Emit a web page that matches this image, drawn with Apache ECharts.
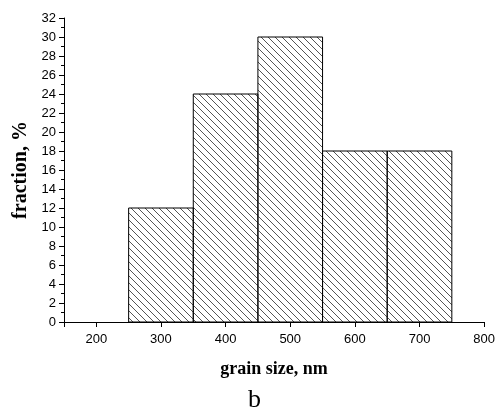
<!DOCTYPE html>
<html>
<head>
<meta charset="utf-8">
<script src="https://cdn.jsdelivr.net/npm/echarts@6/dist/echarts.min.js"></script>
<style>
html,body{margin:0;padding:0;background:#fff;}
#chartMain{width:498px;height:410px;}
</style>
</head>
<body>
<div id="chartMain"></div>
<script>
// histogram bins (nm) and fraction (%)
var binStart = [250, 350, 450, 550, 650];
var binEnd = [350, 450, 550, 650, 750];
var fraction = [12, 24, 30, 18, 18];
var xLabels = [200, 300, 400, 500, 600, 700, 800];
var xTicks = [150, 200, 300, 400, 500, 600, 700, 800];

//斜线填充
function makeHatch() {
    var s = 7;
    var c = document.createElement('canvas');
    c.width = s;
    c.height = s;
    var ctx = c.getContext('2d');
    ctx.strokeStyle = '#555';
    ctx.lineWidth = 1;
    ctx.beginPath();
    ctx.moveTo(0, 0);
    ctx.lineTo(s, s);
    ctx.moveTo(-1, s - 1);
    ctx.lineTo(1, s + 1);
    ctx.moveTo(s - 1, -1);
    ctx.lineTo(s + 1, 1);
    ctx.stroke();
    return c;
}
var hatch = { image: makeHatch(), repeat: 'repeat' };

var data = [];
for (var i = 0; i < binStart.length; i++) {
    data.push([binStart[i], binEnd[i], fraction[i]]);
}

var myChart = echarts.init(document.getElementById('chartMain'));
var labelFont = { color: '#000', fontFamily: 'Liberation Sans', fontSize: 13 };

myChart.setOption({
    animation: false,
    grid: { left: 64, right: 12, top: 18, bottom: 88 },
    xAxis: {
        type: 'value',
        min: 150,
        max: 800,
        name: 'grain size, nm',
        nameLocation: 'middle',
        nameGap: 38,
        nameTextStyle: { color: '#000', fontFamily: 'Liberation Serif', fontSize: 18, fontWeight: 'bold' },
        axisLine: { lineStyle: { color: '#000', width: 1 } },
        axisTick: { show: true, length: 5, customValues: xTicks, lineStyle: { color: '#000' } },
        axisLabel: Object.assign({ customValues: xLabels, margin: 11 }, labelFont),
        splitLine: { show: false }
    },
    yAxis: {
        type: 'value',
        min: 0,
        max: 32,
        interval: 2,
        name: 'fraction, %',
        nameLocation: 'middle',
        nameGap: 31,
        nameTextStyle: { color: '#000', fontFamily: 'Liberation Serif', fontSize: 20, fontWeight: 'bold' },
        axisLine: { show: true, lineStyle: { color: '#000', width: 1 } },
        axisTick: { show: true, length: 5, lineStyle: { color: '#000' } },
        minorTick: { show: true, splitNumber: 2, length: 3, lineStyle: { color: '#000' } },
        axisLabel: Object.assign({ margin: 8 }, labelFont),
        splitLine: { show: false }
    },
    graphic: [{
        type: 'text',
        left: 248,
        top: 387,
        style: { text: 'b', fill: '#000', font: '26px "Liberation Serif"' }
    }],
    series: [{
        type: 'custom',
        data: data,
        encode: { x: [0, 1], y: 2 },
        renderItem: function (params, api) {
            var p0 = api.coord([api.value(0), api.value(2)]);
            var p1 = api.coord([api.value(1), 0]);
            return {
                type: 'rect',
                shape: { x: p0[0], y: p0[1], width: p1[0] - p0[0], height: p1[1] - p0[1] },
                style: { fill: hatch, stroke: '#000', lineWidth: 1 }
            };
        }
    }]
});
</script>
</body>
</html>
